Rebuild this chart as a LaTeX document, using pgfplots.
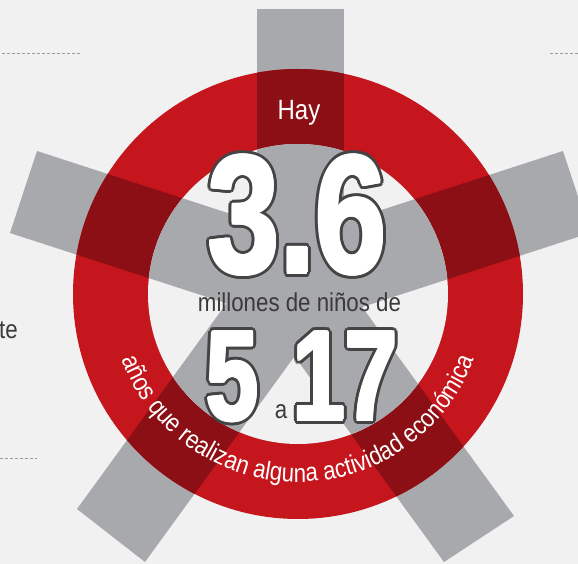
\documentclass[border=0pt]{standalone}
\usepackage{pgfplots}
\pgfplotsset{compat=1.18}
\usepackage{fontspec}
\setmainfont{Liberation Sans}
\newfontfamily\condfont{Liberation Sans}[FakeStretch=0.86]
\newfontfamily\bigfont{Liberation Sans}[FakeStretch=0.74]
\newfontfamily\bigfontw{Liberation Sans}[FakeStretch=0.765]
\usetikzlibrary{decorations.text}
\definecolor{bg}{HTML}{F1F1F1}
\definecolor{armgray}{HTML}{A8A9AD}
\definecolor{ringred}{HTML}{C4161C}
\definecolor{darkred}{HTML}{8B0F14}
\definecolor{outl}{HTML}{444444}
\definecolor{txt}{HTML}{3A3A3A}
\definecolor{dashgray}{HTML}{9A9A9A}

\pgfplotsset{base/.style={at={(0,0)}, anchor=south west, scale only axis,
  width=578bp, height=564bp, xmin=0, xmax=578, ymin=0, ymax=564, hide axis, clip=true}}

% the five arms of the star (pixel x, 564 - pixel y)
\newcommand\arms[1]{%
  \addplot[fill=#1, draw=none] coordinates {(257,555) (344,555) (344,235) (257,235)} -- cycle;
  \addplot[fill=#1, draw=none] coordinates {(37,413) (10,331) (304.8,235.2) (331.8,317.2)} -- cycle;
  \addplot[fill=#1, draw=none] coordinates {(563,413) (590,331) (295.2,235.2) (268.2,317.2)} -- cycle;
  \addplot[fill=#1, draw=none] coordinates {(77,55) (145,2) (342,273) (274,326)} -- cycle;
  \addplot[fill=#1, draw=none] coordinates {(514,48) (444,2) (250,269) (320,315)} -- cycle;
}
\newcommand\fullfill[1]{%
  \addplot[fill=#1, draw=none] coordinates {(-5,-5) (583,-5) (583,569) (-5,569)} -- cycle;
}
% white figures with a dark outline (dark copies around, slightly emboldened white on top)
\newcommand\outlined[4]{%
  \foreach \a in {0,22.5,...,337.5} {\node[anchor=base, inner sep=0, text=outl, font=#3] at ([shift={(\a:4.5bp)}]#1bp,#2bp) {#4};}
  \foreach \a in {0,45,...,315} {\node[anchor=base, inner sep=0, text=white, font=#3] at ([shift={(\a:1.5bp)}]#1bp,#2bp) {#4};}
  \node[anchor=base, inner sep=0, text=white, font=#3] at (#1bp,#2bp) {#4};
}

\begin{document}
\begin{tikzpicture}
\begin{axis}[base]
  \fullfill{bg}
  \arms{armgray}
\end{axis}
\begin{scope}
  \clip (298bp,270bp) circle[radius=225bp];
  \begin{axis}[base]
    \fullfill{ringred}
    \arms{darkred}
  \end{axis}
\end{scope}
\begin{scope}
  \clip (298bp,270bp) circle[radius=150bp];
  \begin{axis}[base]
    \fullfill{bg}
    \arms{armgray}
  \end{axis}
\end{scope}

% dashed rules
\draw[dashgray, line width=0.7bp, dash pattern=on 2.6bp off 2.4bp] (2bp,511bp) -- (80bp,511bp);
\draw[dashgray, line width=0.7bp, dash pattern=on 2.6bp off 2.4bp] (550bp,511bp) -- (578bp,511bp);
\draw[dashgray, line width=0.7bp, dash pattern=on 2.6bp off 2.4bp] (0bp,106bp) -- (37bp,106bp);

% texts
\node[anchor=base, inner sep=0, text=white, font=\condfont\fontsize{28}{28}\selectfont] at (299bp,444bp) {Hay};
\outlined{297.5}{291}{\bigfontw\bfseries\fontsize{169}{169}\selectfont}{3.6}
\node[anchor=base, inner sep=0, text=txt, font=\condfont\fontsize{26}{26}\selectfont] at (299.5bp,252bp) {millones de niños de};
\outlined{232.5}{144}{\bigfont\bfseries\fontsize{128}{128}\selectfont}{5}
\outlined{345}{144}{\bigfont\bfseries\fontsize{128}{128}\selectfont}{17}
\node[anchor=base, inner sep=0, text=txt, font=\condfont\fontsize{26}{26}\selectfont] at (281bp,145bp) {a};
\node[anchor=base west, inner sep=0, text=txt, font=\condfont\fontsize{26}{26}\selectfont] at (-1bp,225bp) {te};

\path[decorate, decoration={text along path, text align=center, text color=white,
  text={|\condfont\fontsize{26}{26}\selectfont|años que realizan alguna actividad económica}}]
  (298bp,270bp) ++(190:188bp) arc[start angle=190, end angle=350, radius=188bp];

\pgfresetboundingbox
\path[use as bounding box] (0,0) rectangle (578bp,564bp);
\end{tikzpicture}
\end{document}
